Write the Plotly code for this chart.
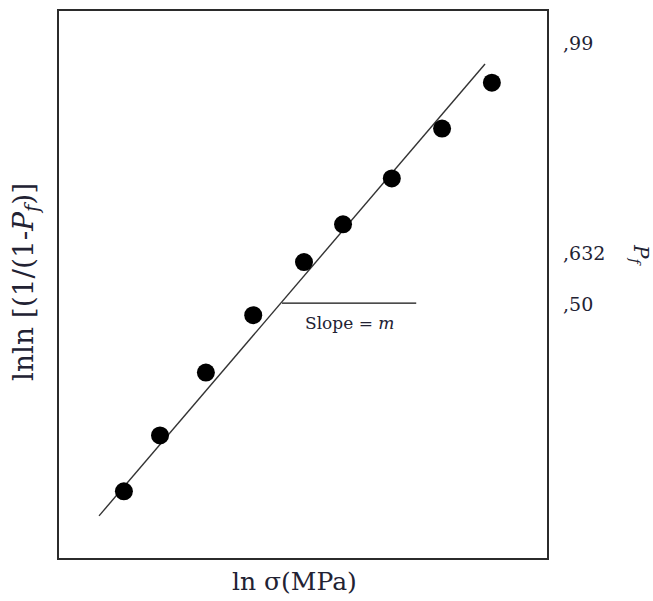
import plotly.graph_objects as go

# Data (arbitrary normalized units)
ln_sigma = [13.3, 20.7, 30.1, 39.8, 50.2, 58.2, 68.2, 78.5, 88.7]
lnln_val = [12.2, 22.4, 33.9, 44.4, 54.1, 61.0, 69.4, 78.5, 86.9]
fit_x = [8.2, 87.3]
fit_y = [7.7, 90.3]
slope_x = [45.7, 73.2]
slope_y = [46.6, 46.6]
pf_ticks = [94.0, 55.7, 46.4]
pf_labels = [",99", ",632", ",50"]

FONT = "DejaVu Serif"
TXT = "#222233"

W, H = 653, 601
L, T, R, B = 59, 9, W - 547, H - 558
pw, ph = W - L - R, H - T - B

fig = go.Figure()
fig.add_trace(go.Scatter(x=fit_x, y=fit_y, mode="lines",
                         line=dict(color="#333333", width=1.4), showlegend=False))
fig.add_trace(go.Scatter(x=slope_x, y=slope_y, mode="lines",
                         line=dict(color="#111111", width=1.4), showlegend=False))
fig.add_trace(go.Scatter(x=ln_sigma, y=lnln_val, mode="markers",
                         marker=dict(color="black", size=18), showlegend=False))
fig.add_trace(go.Scatter(x=[None], y=[None], yaxis="y2", showlegend=False))

fig.add_annotation(x=59.5, y=43.0, xref="x", yref="y", text="Slope = <i>m</i>",
                   showarrow=False, xanchor="center", yanchor="middle",
                   font=dict(family=FONT, size=17, color=TXT))

fig.update_layout(
    width=W, height=H,
    margin=dict(l=L, r=R, t=T, b=B, pad=0),
    paper_bgcolor="white", plot_bgcolor="white",
    xaxis=dict(range=[0, 100], showticklabels=False, showgrid=False, zeroline=False,
               showline=True, mirror=True, linecolor="#2b2b2b", linewidth=2, ticks=""),
    yaxis=dict(range=[0, 100], showticklabels=False, showgrid=False, zeroline=False,
               showline=True, mirror=True, linecolor="#2b2b2b", linewidth=2, ticks=""),
    yaxis2=dict(range=[0, 100], overlaying="y", side="right", showgrid=False,
                zeroline=False, showline=False, ticks="",
                tickvals=pf_ticks, ticktext=pf_labels, ticklabelstandoff=15,
                tickfont=dict(family=FONT, size=19, color=TXT)),
)

def pix_ann(px, py, text, size, angle=0):
    fig.add_annotation(x=(px - L) / pw, y=(H - B - py) / ph,
                       xref="paper", yref="paper", text=text, showarrow=False,
                       xanchor="center", yanchor="middle",
                       textangle=angle, font=dict(family=FONT, size=size, color=TXT))

pix_ann(294, 582, "ln σ(MPa)", 25)
pix_ann(640, 254, "<i>P<sub>f</sub></i>", 20, 90)
pix_ann(25, 281, "lnln [(1/(1-<i>P<sub>f</sub></i>)]", 28, -90)

fig.write_html("out.html", config={"displayModeBar": False},
               post_script="document.body.style.margin='0';document.body.style.overflow='hidden';")
